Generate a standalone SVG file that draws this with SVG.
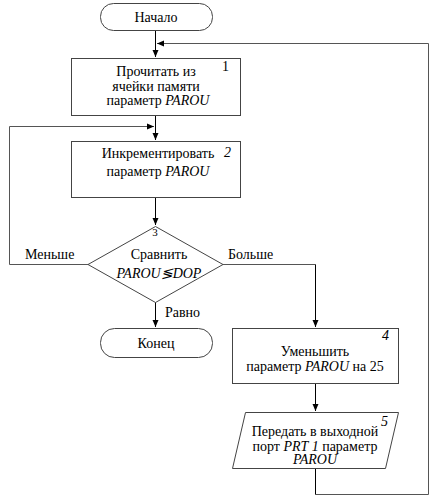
<svg xmlns="http://www.w3.org/2000/svg" width="437" height="499" viewBox="0 0 437 499">
<style>
.s{fill:#fff;stroke:#444;stroke-width:1}
.c{fill:none;stroke:#000;stroke-width:1}
.cd{fill:none;stroke:#555;stroke-width:1}
text{font-family:"Times New Roman","Liberation Serif","DejaVu Serif",serif;font-size:14px;fill:#000}
.m{text-anchor:middle}
.i{font-style:italic}
</style>
<defs>
<marker id="a" markerWidth="8" markerHeight="8" refX="7" refY="4" orient="auto" markerUnits="userSpaceOnUse">
<path d="M0,1 L7,4 L0,7 Z" fill="#000"/>
</marker>
</defs>
<rect width="437" height="499" fill="#fff"/>
<g id="connectors">
<path class="c" d="M155.5,30 V57" marker-end="url(#a)"/>
<path class="cd" d="M315.5,494.5 H428.5 V43.5 H157" marker-end="url(#a)"/>
<path class="c" d="M155.5,115 V140" marker-end="url(#a)"/>
<path class="cd" d="M88,264.5 H9.5 V126.5 H154" marker-end="url(#a)"/>
<path class="c" d="M155.5,197 V225" marker-end="url(#a)"/>
<path class="cd" d="M223,264.5 H315.5"/>
<path class="c" d="M315.5,264.5 V327" marker-end="url(#a)"/>
<path class="c" d="M155.5,302 V327" marker-end="url(#a)"/>
<path class="c" d="M315.5,383 V411" marker-end="url(#a)"/>
<path class="c" d="M315.5,468 V494.5"/>
<text x="25" y="259">Меньше</text>
<text x="228" y="259">Больше</text>
<text x="165" y="317">Равно</text>
</g>
<g id="start">
<rect class="s" x="100.5" y="3.5" width="112" height="27" rx="13"/>
<text class="m" x="156" y="22">Начало</text>
</g>
<g id="n1">
<rect class="s" x="71.5" y="58.5" width="169" height="57"/>
<text x="222" y="71">1</text>
<text class="m" x="156" y="76">Прочитать из</text>
<text class="m" x="156" y="91">ячейки памяти</text>
<text class="m" x="158" y="105">параметр  <tspan class="i">PAROU</tspan></text>
</g>
<g id="n2">
<rect class="s" x="71.5" y="141.5" width="169" height="56"/>
<text class="i" x="224" y="157">2</text>
<text class="m" x="158" y="158">Инкрементировать</text>
<text class="m" x="158" y="176">параметр <tspan class="i">PAROU</tspan></text>
</g>
<g id="n3">
<polygon class="s" points="155.5,226.5 223,264.5 155.5,302.5 88,264.5"/>
<text class="m" x="155" y="236" style="font-size:11px">3</text>
<text class="m" x="159" y="259">Сравнить</text>
<text class="m i" x="159" y="278">PAROU≶DOP</text>
</g>
<g id="end">
<rect class="s" x="100.5" y="328.5" width="112" height="29" rx="14"/>
<text class="m" x="156" y="348">Конец</text>
</g>
<g id="n4">
<rect class="s" x="232.5" y="328.5" width="166" height="55"/>
<text class="i" x="382" y="340">4</text>
<text class="m" x="315" y="356">Уменьшить</text>
<text class="m" x="315" y="371">параметр <tspan class="i">PAROU</tspan> на 25</text>
</g>
<g id="n5">
<polygon class="s" points="245.5,412.5 398.5,412.5 385.5,468.5 232.5,468.5"/>
<text class="i" x="381" y="426">5</text>
<text class="m" x="315" y="436">Передать в выходной</text>
<text class="m" x="315" y="451">порт <tspan class="i">PRT 1</tspan> параметр</text>
<text class="m i" x="315" y="464">PAROU</text>
</g>
</svg>
